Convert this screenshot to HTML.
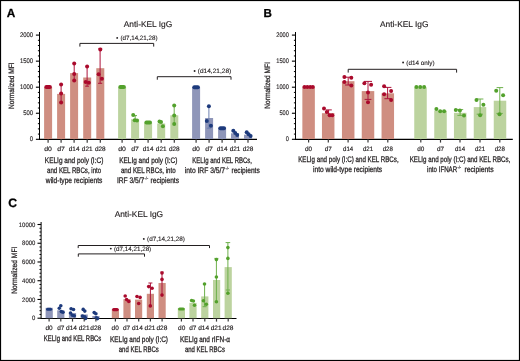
<!DOCTYPE html>
<html><head><meta charset="utf-8"><style>
html,body{margin:0;padding:0;background:#fff;}
body{width:520px;height:361px;overflow:hidden;}
svg{display:block;will-change:transform;}
text{font-family:"Liberation Sans", sans-serif;text-rendering:geometricPrecision;}
</style></head><body>
<svg width="520" height="361" viewBox="0 0 520 361" font-family='"Liberation Sans", sans-serif'>
<rect x="0" y="0" width="520" height="361" fill="#fff"/>
<text x="6.70" y="16.90" font-size="11.8" text-anchor="start" font-weight="bold" fill="#000" stroke="#000" stroke-width="0.28">A</text>
<text x="263.50" y="16.80" font-size="11.6" text-anchor="start" font-weight="bold" fill="#000" stroke="#000" stroke-width="0.28">B</text>
<text x="8.20" y="207.00" font-size="12.2" text-anchor="start" font-weight="bold" fill="#000" stroke="#000" stroke-width="0.28">C</text>
<text x="148.00" y="26.90" font-size="8.4" text-anchor="middle" font-weight="normal" fill="#231f20" textLength="48.50" lengthAdjust="spacingAndGlyphs" stroke="#231f20" stroke-width="0.15">Anti-KEL IgG</text>
<text x="404.20" y="26.80" font-size="8.4" text-anchor="middle" font-weight="normal" fill="#231f20" textLength="48.50" lengthAdjust="spacingAndGlyphs" stroke="#231f20" stroke-width="0.15">Anti-KEL IgG</text>
<text x="138.90" y="216.90" font-size="8.4" text-anchor="middle" font-weight="normal" fill="#231f20" textLength="48.50" lengthAdjust="spacingAndGlyphs" stroke="#231f20" stroke-width="0.15">Anti-KEL IgG</text>
<line x1="39.50" y1="32.00" x2="39.50" y2="139.80" stroke="#000" stroke-width="1.0"/>
<line x1="35.90" y1="139.30" x2="39.50" y2="139.30" stroke="#000" stroke-width="1.1"/>
<line x1="35.90" y1="113.25" x2="39.50" y2="113.25" stroke="#000" stroke-width="1.1"/>
<line x1="35.90" y1="87.20" x2="39.50" y2="87.20" stroke="#000" stroke-width="1.1"/>
<line x1="35.90" y1="61.15" x2="39.50" y2="61.15" stroke="#000" stroke-width="1.1"/>
<line x1="35.90" y1="35.10" x2="39.50" y2="35.10" stroke="#000" stroke-width="1.1"/>
<line x1="37.90" y1="134.09" x2="39.50" y2="134.09" stroke="#000" stroke-width="1.0"/>
<line x1="37.90" y1="128.88" x2="39.50" y2="128.88" stroke="#000" stroke-width="1.0"/>
<line x1="37.90" y1="123.67" x2="39.50" y2="123.67" stroke="#000" stroke-width="1.0"/>
<line x1="37.90" y1="118.46" x2="39.50" y2="118.46" stroke="#000" stroke-width="1.0"/>
<line x1="37.90" y1="108.04" x2="39.50" y2="108.04" stroke="#000" stroke-width="1.0"/>
<line x1="37.90" y1="102.83" x2="39.50" y2="102.83" stroke="#000" stroke-width="1.0"/>
<line x1="37.90" y1="97.62" x2="39.50" y2="97.62" stroke="#000" stroke-width="1.0"/>
<line x1="37.90" y1="92.41" x2="39.50" y2="92.41" stroke="#000" stroke-width="1.0"/>
<line x1="37.90" y1="81.99" x2="39.50" y2="81.99" stroke="#000" stroke-width="1.0"/>
<line x1="37.90" y1="76.78" x2="39.50" y2="76.78" stroke="#000" stroke-width="1.0"/>
<line x1="37.90" y1="71.57" x2="39.50" y2="71.57" stroke="#000" stroke-width="1.0"/>
<line x1="37.90" y1="66.36" x2="39.50" y2="66.36" stroke="#000" stroke-width="1.0"/>
<line x1="37.90" y1="55.94" x2="39.50" y2="55.94" stroke="#000" stroke-width="1.0"/>
<line x1="37.90" y1="50.73" x2="39.50" y2="50.73" stroke="#000" stroke-width="1.0"/>
<line x1="37.90" y1="45.52" x2="39.50" y2="45.52" stroke="#000" stroke-width="1.0"/>
<line x1="37.90" y1="40.31" x2="39.50" y2="40.31" stroke="#000" stroke-width="1.0"/>
<text x="33.10" y="141.31" font-size="6.7" text-anchor="end" font-weight="normal" fill="#231f20" textLength="3.30" lengthAdjust="spacingAndGlyphs" stroke="#231f20" stroke-width="0.14">0</text>
<text x="33.10" y="115.26" font-size="6.7" text-anchor="end" font-weight="normal" fill="#231f20" textLength="9.90" lengthAdjust="spacingAndGlyphs" stroke="#231f20" stroke-width="0.14">500</text>
<text x="33.10" y="89.21" font-size="6.7" text-anchor="end" font-weight="normal" fill="#231f20" textLength="13.20" lengthAdjust="spacingAndGlyphs" stroke="#231f20" stroke-width="0.14">1000</text>
<text x="33.10" y="63.16" font-size="6.7" text-anchor="end" font-weight="normal" fill="#231f20" textLength="13.20" lengthAdjust="spacingAndGlyphs" stroke="#231f20" stroke-width="0.14">1500</text>
<text x="33.10" y="37.11" font-size="6.7" text-anchor="end" font-weight="normal" fill="#231f20" textLength="13.20" lengthAdjust="spacingAndGlyphs" stroke="#231f20" stroke-width="0.14">2000</text>
<line x1="39.00" y1="139.40" x2="257.00" y2="139.40" stroke="#000" stroke-width="1.2"/>
<text x="0" y="0" font-size="7.8" text-anchor="middle" fill="#231f20" stroke="#231f20" stroke-width="0.25" textLength="46.60" lengthAdjust="spacingAndGlyphs" transform="translate(14.30,85.60) rotate(-90)">Normalized MFI</text>
<rect x="44.10" y="87.00" width="8.00" height="52.00" fill="#cf8e81"/>
<line x1="46.30" y1="87.00" x2="49.90" y2="87.00" stroke="#aa0a2c" stroke-width="4.0" stroke-linecap="round"/>
<rect x="57.10" y="93.90" width="8.00" height="45.10" fill="#cf8e81"/>
<line x1="61.10" y1="84.60" x2="61.10" y2="102.50" stroke="#ad143c" stroke-width="1.0"/>
<circle cx="61.10" cy="84.60" r="2.0" fill="#aa0a2c"/>
<circle cx="61.10" cy="93.60" r="2.0" fill="#aa0a2c"/>
<circle cx="61.10" cy="102.50" r="2.0" fill="#aa0a2c"/>
<rect x="70.10" y="73.10" width="8.00" height="65.90" fill="#cf8e81"/>
<line x1="74.20" y1="63.50" x2="74.20" y2="80.40" stroke="#ad143c" stroke-width="1.0"/>
<circle cx="74.20" cy="63.50" r="2.0" fill="#aa0a2c"/>
<circle cx="74.20" cy="74.10" r="2.0" fill="#aa0a2c"/>
<circle cx="74.20" cy="80.40" r="2.0" fill="#aa0a2c"/>
<rect x="83.20" y="77.50" width="8.00" height="61.50" fill="#cf8e81"/>
<line x1="87.10" y1="66.40" x2="87.10" y2="86.20" stroke="#ad143c" stroke-width="1.0"/>
<line x1="85.20" y1="86.20" x2="89.00" y2="86.20" stroke="#ad143c" stroke-width="1.0"/>
<circle cx="87.10" cy="66.40" r="2.0" fill="#aa0a2c"/>
<circle cx="85.70" cy="82.10" r="2.0" fill="#aa0a2c"/>
<circle cx="88.90" cy="82.80" r="2.0" fill="#aa0a2c"/>
<rect x="96.30" y="68.20" width="8.00" height="70.80" fill="#cf8e81"/>
<line x1="100.10" y1="49.00" x2="100.10" y2="83.30" stroke="#ad143c" stroke-width="1.0"/>
<line x1="98.00" y1="83.30" x2="102.20" y2="83.30" stroke="#ad143c" stroke-width="1.0"/>
<line x1="98.40" y1="48.40" x2="102.20" y2="48.40" stroke="#ad143c" stroke-width="1.0"/>
<circle cx="100.30" cy="49.40" r="2.0" fill="#aa0a2c"/>
<circle cx="98.60" cy="74.20" r="2.0" fill="#aa0a2c"/>
<circle cx="101.90" cy="78.80" r="2.0" fill="#aa0a2c"/>
<rect x="118.10" y="87.00" width="8.00" height="52.00" fill="#bcd39f"/>
<line x1="120.30" y1="87.10" x2="123.90" y2="87.10" stroke="#53a12c" stroke-width="4.0" stroke-linecap="round"/>
<rect x="131.10" y="119.20" width="8.00" height="19.80" fill="#bcd39f"/>
<line x1="135.20" y1="115.60" x2="135.20" y2="119.00" stroke="#6eb04c" stroke-width="1.0"/>
<line x1="134.00" y1="115.60" x2="137.00" y2="115.60" stroke="#6eb04c" stroke-width="1.0"/>
<circle cx="133.20" cy="115.00" r="2.0" fill="#53a12c"/>
<circle cx="134.70" cy="120.20" r="2.0" fill="#53a12c"/>
<circle cx="137.00" cy="120.40" r="2.0" fill="#53a12c"/>
<rect x="144.10" y="122.60" width="8.00" height="16.40" fill="#bcd39f"/>
<line x1="146.40" y1="122.60" x2="150.00" y2="122.60" stroke="#53a12c" stroke-width="4.0" stroke-linecap="round"/>
<rect x="157.20" y="123.50" width="8.00" height="15.50" fill="#bcd39f"/>
<circle cx="159.50" cy="121.40" r="2.0" fill="#53a12c"/>
<circle cx="161.00" cy="122.00" r="2.0" fill="#53a12c"/>
<circle cx="162.90" cy="126.20" r="2.0" fill="#53a12c"/>
<rect x="170.30" y="115.30" width="8.00" height="23.70" fill="#bcd39f"/>
<line x1="174.20" y1="105.50" x2="174.20" y2="124.00" stroke="#6eb04c" stroke-width="1.0"/>
<circle cx="174.20" cy="105.50" r="2.0" fill="#53a12c"/>
<circle cx="174.20" cy="115.60" r="2.0" fill="#53a12c"/>
<circle cx="174.20" cy="124.00" r="2.0" fill="#53a12c"/>
<rect x="192.10" y="87.20" width="8.00" height="51.80" fill="#8f96b9"/>
<line x1="194.30" y1="87.30" x2="197.90" y2="87.30" stroke="#1d3a7c" stroke-width="4.0" stroke-linecap="round"/>
<rect x="205.10" y="118.00" width="8.00" height="21.00" fill="#8f96b9"/>
<line x1="208.90" y1="106.30" x2="208.90" y2="128.20" stroke="#6f80b0" stroke-width="1.0"/>
<line x1="206.80" y1="128.20" x2="211.00" y2="128.20" stroke="#6f80b0" stroke-width="1.0"/>
<circle cx="208.90" cy="106.30" r="2.0" fill="#1d3a7c"/>
<circle cx="206.80" cy="120.90" r="2.0" fill="#1d3a7c"/>
<circle cx="210.90" cy="125.70" r="2.0" fill="#1d3a7c"/>
<rect x="218.10" y="127.40" width="8.00" height="11.60" fill="#8f96b9"/>
<line x1="220.40" y1="128.30" x2="224.00" y2="128.30" stroke="#1d3a7c" stroke-width="4.0" stroke-linecap="round"/>
<rect x="231.00" y="133.30" width="8.00" height="5.70" fill="#8f96b9"/>
<circle cx="233.30" cy="130.80" r="2.0" fill="#1d3a7c"/>
<circle cx="235.20" cy="132.90" r="2.0" fill="#1d3a7c"/>
<circle cx="237.20" cy="135.00" r="2.0" fill="#1d3a7c"/>
<rect x="244.00" y="134.70" width="8.00" height="4.30" fill="#8f96b9"/>
<circle cx="246.70" cy="132.20" r="2.0" fill="#1d3a7c"/>
<circle cx="248.60" cy="134.20" r="2.0" fill="#1d3a7c"/>
<circle cx="250.60" cy="136.10" r="2.0" fill="#1d3a7c"/>
<line x1="48.10" y1="139.30" x2="48.10" y2="142.80" stroke="#3a3a3a" stroke-width="1.2"/>
<text x="48.10" y="150.80" font-size="6.3" text-anchor="middle" font-weight="normal" fill="#231f20" textLength="7.70" lengthAdjust="spacingAndGlyphs" stroke="#231f20" stroke-width="0.16">d0</text>
<line x1="61.10" y1="139.30" x2="61.10" y2="142.80" stroke="#3a3a3a" stroke-width="1.2"/>
<text x="61.10" y="150.80" font-size="6.3" text-anchor="middle" font-weight="normal" fill="#231f20" textLength="7.70" lengthAdjust="spacingAndGlyphs" stroke="#231f20" stroke-width="0.16">d7</text>
<line x1="74.10" y1="139.30" x2="74.10" y2="142.80" stroke="#3a3a3a" stroke-width="1.2"/>
<text x="74.10" y="150.80" font-size="6.3" text-anchor="middle" font-weight="normal" fill="#231f20" textLength="10.70" lengthAdjust="spacingAndGlyphs" stroke="#231f20" stroke-width="0.16">d14</text>
<line x1="87.20" y1="139.30" x2="87.20" y2="142.80" stroke="#3a3a3a" stroke-width="1.2"/>
<text x="87.20" y="150.80" font-size="6.3" text-anchor="middle" font-weight="normal" fill="#231f20" textLength="10.70" lengthAdjust="spacingAndGlyphs" stroke="#231f20" stroke-width="0.16">d21</text>
<line x1="100.30" y1="139.30" x2="100.30" y2="142.80" stroke="#3a3a3a" stroke-width="1.2"/>
<text x="100.30" y="150.80" font-size="6.3" text-anchor="middle" font-weight="normal" fill="#231f20" textLength="10.70" lengthAdjust="spacingAndGlyphs" stroke="#231f20" stroke-width="0.16">d28</text>
<line x1="122.10" y1="139.30" x2="122.10" y2="142.80" stroke="#3a3a3a" stroke-width="1.2"/>
<text x="122.10" y="150.80" font-size="6.3" text-anchor="middle" font-weight="normal" fill="#231f20" textLength="7.70" lengthAdjust="spacingAndGlyphs" stroke="#231f20" stroke-width="0.16">d0</text>
<line x1="135.10" y1="139.30" x2="135.10" y2="142.80" stroke="#3a3a3a" stroke-width="1.2"/>
<text x="135.10" y="150.80" font-size="6.3" text-anchor="middle" font-weight="normal" fill="#231f20" textLength="7.70" lengthAdjust="spacingAndGlyphs" stroke="#231f20" stroke-width="0.16">d7</text>
<line x1="148.10" y1="139.30" x2="148.10" y2="142.80" stroke="#3a3a3a" stroke-width="1.2"/>
<text x="148.10" y="150.80" font-size="6.3" text-anchor="middle" font-weight="normal" fill="#231f20" textLength="10.70" lengthAdjust="spacingAndGlyphs" stroke="#231f20" stroke-width="0.16">d14</text>
<line x1="161.20" y1="139.30" x2="161.20" y2="142.80" stroke="#3a3a3a" stroke-width="1.2"/>
<text x="161.20" y="150.80" font-size="6.3" text-anchor="middle" font-weight="normal" fill="#231f20" textLength="10.70" lengthAdjust="spacingAndGlyphs" stroke="#231f20" stroke-width="0.16">d21</text>
<line x1="174.30" y1="139.30" x2="174.30" y2="142.80" stroke="#3a3a3a" stroke-width="1.2"/>
<text x="174.30" y="150.80" font-size="6.3" text-anchor="middle" font-weight="normal" fill="#231f20" textLength="10.70" lengthAdjust="spacingAndGlyphs" stroke="#231f20" stroke-width="0.16">d28</text>
<line x1="196.10" y1="139.30" x2="196.10" y2="142.80" stroke="#3a3a3a" stroke-width="1.2"/>
<text x="196.10" y="150.80" font-size="6.3" text-anchor="middle" font-weight="normal" fill="#231f20" textLength="7.70" lengthAdjust="spacingAndGlyphs" stroke="#231f20" stroke-width="0.16">d0</text>
<line x1="209.10" y1="139.30" x2="209.10" y2="142.80" stroke="#3a3a3a" stroke-width="1.2"/>
<text x="209.10" y="150.80" font-size="6.3" text-anchor="middle" font-weight="normal" fill="#231f20" textLength="7.70" lengthAdjust="spacingAndGlyphs" stroke="#231f20" stroke-width="0.16">d7</text>
<line x1="222.10" y1="139.30" x2="222.10" y2="142.80" stroke="#3a3a3a" stroke-width="1.2"/>
<text x="222.10" y="150.80" font-size="6.3" text-anchor="middle" font-weight="normal" fill="#231f20" textLength="10.70" lengthAdjust="spacingAndGlyphs" stroke="#231f20" stroke-width="0.16">d14</text>
<line x1="235.00" y1="139.30" x2="235.00" y2="142.80" stroke="#3a3a3a" stroke-width="1.2"/>
<text x="235.00" y="150.80" font-size="6.3" text-anchor="middle" font-weight="normal" fill="#231f20" textLength="10.70" lengthAdjust="spacingAndGlyphs" stroke="#231f20" stroke-width="0.16">d21</text>
<line x1="248.00" y1="139.30" x2="248.00" y2="142.80" stroke="#3a3a3a" stroke-width="1.2"/>
<text x="248.00" y="150.80" font-size="6.3" text-anchor="middle" font-weight="normal" fill="#231f20" textLength="10.70" lengthAdjust="spacingAndGlyphs" stroke="#231f20" stroke-width="0.16">d28</text>
<text x="74.10" y="162.60" font-size="8.0" text-anchor="middle" font-weight="normal" fill="#231f20" textLength="58.50" lengthAdjust="spacingAndGlyphs" stroke="#231f20" stroke-width="0.28">KELIg and poly (I:C)</text>
<text x="74.10" y="172.90" font-size="8.0" text-anchor="middle" font-weight="normal" fill="#231f20" textLength="54.20" lengthAdjust="spacingAndGlyphs" stroke="#231f20" stroke-width="0.28">and KEL RBCs, into</text>
<text x="74.10" y="183.20" font-size="8.0" text-anchor="middle" font-weight="normal" fill="#231f20" textLength="56.50" lengthAdjust="spacingAndGlyphs" stroke="#231f20" stroke-width="0.28">wild-type recipients</text>
<text x="148.30" y="162.60" font-size="8.0" text-anchor="middle" font-weight="normal" fill="#231f20" textLength="58.20" lengthAdjust="spacingAndGlyphs" stroke="#231f20" stroke-width="0.28">KELIg and poly (I:C)</text>
<text x="148.30" y="172.90" font-size="8.0" text-anchor="middle" font-weight="normal" fill="#231f20" textLength="54.70" lengthAdjust="spacingAndGlyphs" stroke="#231f20" stroke-width="0.28">and KEL RBCs, into</text>
<text x="116.90" y="183.20" font-size="8.0" text-anchor="start" font-weight="normal" fill="#231f20" textLength="27.40" lengthAdjust="spacingAndGlyphs" stroke="#231f20" stroke-width="0.28">IRF 3/5/7</text>
<text x="144.60" y="179.90" font-size="4.6" text-anchor="start" font-weight="normal" fill="#231f20" textLength="3.60" lengthAdjust="spacingAndGlyphs" stroke="#231f20" stroke-width="0.15">-/-</text>
<text x="150.60" y="183.20" font-size="8.0" text-anchor="start" font-weight="normal" fill="#231f20" textLength="28.40" lengthAdjust="spacingAndGlyphs" stroke="#231f20" stroke-width="0.28">recipients</text>
<text x="222.10" y="162.60" font-size="8.0" text-anchor="middle" font-weight="normal" fill="#231f20" textLength="59.70" lengthAdjust="spacingAndGlyphs" stroke="#231f20" stroke-width="0.28">KELIg and KEL RBCs,</text>
<text x="184.80" y="172.90" font-size="8.0" text-anchor="start" font-weight="normal" fill="#231f20" textLength="40.30" lengthAdjust="spacingAndGlyphs" stroke="#231f20" stroke-width="0.28">into IRF 3/5/7</text>
<text x="225.40" y="169.60" font-size="4.6" text-anchor="start" font-weight="normal" fill="#231f20" textLength="3.50" lengthAdjust="spacingAndGlyphs" stroke="#231f20" stroke-width="0.15">-/-</text>
<text x="231.50" y="172.90" font-size="8.0" text-anchor="start" font-weight="normal" fill="#231f20" textLength="28.20" lengthAdjust="spacingAndGlyphs" stroke="#231f20" stroke-width="0.28">recipients</text>
<path d="M79.90 46.60 V43.40 H153.70 V46.60" fill="none" stroke="#231f20" stroke-width="1"/>
<circle cx="117.20" cy="37.90" r="0.95" fill="#231f20"/>
<text x="120.40" y="39.90" font-size="6.3" text-anchor="start" font-weight="normal" fill="#231f20" textLength="37.20" lengthAdjust="spacingAndGlyphs" stroke="#231f20" stroke-width="0.12">(d7,14,21,28)</text>
<path d="M157.30 79.70 V76.70 H231.00 V79.70" fill="none" stroke="#231f20" stroke-width="1"/>
<circle cx="194.60" cy="71.00" r="0.95" fill="#231f20"/>
<text x="197.80" y="73.00" font-size="6.3" text-anchor="start" font-weight="normal" fill="#231f20" textLength="33.40" lengthAdjust="spacingAndGlyphs" stroke="#231f20" stroke-width="0.12">(d14,21,28)</text>
<line x1="295.50" y1="32.00" x2="295.50" y2="139.80" stroke="#000" stroke-width="1.0"/>
<line x1="291.90" y1="139.30" x2="295.50" y2="139.30" stroke="#000" stroke-width="1.1"/>
<line x1="291.90" y1="113.25" x2="295.50" y2="113.25" stroke="#000" stroke-width="1.1"/>
<line x1="291.90" y1="87.20" x2="295.50" y2="87.20" stroke="#000" stroke-width="1.1"/>
<line x1="291.90" y1="61.15" x2="295.50" y2="61.15" stroke="#000" stroke-width="1.1"/>
<line x1="291.90" y1="35.10" x2="295.50" y2="35.10" stroke="#000" stroke-width="1.1"/>
<line x1="293.90" y1="134.09" x2="295.50" y2="134.09" stroke="#000" stroke-width="1.0"/>
<line x1="293.90" y1="128.88" x2="295.50" y2="128.88" stroke="#000" stroke-width="1.0"/>
<line x1="293.90" y1="123.67" x2="295.50" y2="123.67" stroke="#000" stroke-width="1.0"/>
<line x1="293.90" y1="118.46" x2="295.50" y2="118.46" stroke="#000" stroke-width="1.0"/>
<line x1="293.90" y1="108.04" x2="295.50" y2="108.04" stroke="#000" stroke-width="1.0"/>
<line x1="293.90" y1="102.83" x2="295.50" y2="102.83" stroke="#000" stroke-width="1.0"/>
<line x1="293.90" y1="97.62" x2="295.50" y2="97.62" stroke="#000" stroke-width="1.0"/>
<line x1="293.90" y1="92.41" x2="295.50" y2="92.41" stroke="#000" stroke-width="1.0"/>
<line x1="293.90" y1="81.99" x2="295.50" y2="81.99" stroke="#000" stroke-width="1.0"/>
<line x1="293.90" y1="76.78" x2="295.50" y2="76.78" stroke="#000" stroke-width="1.0"/>
<line x1="293.90" y1="71.57" x2="295.50" y2="71.57" stroke="#000" stroke-width="1.0"/>
<line x1="293.90" y1="66.36" x2="295.50" y2="66.36" stroke="#000" stroke-width="1.0"/>
<line x1="293.90" y1="55.94" x2="295.50" y2="55.94" stroke="#000" stroke-width="1.0"/>
<line x1="293.90" y1="50.73" x2="295.50" y2="50.73" stroke="#000" stroke-width="1.0"/>
<line x1="293.90" y1="45.52" x2="295.50" y2="45.52" stroke="#000" stroke-width="1.0"/>
<line x1="293.90" y1="40.31" x2="295.50" y2="40.31" stroke="#000" stroke-width="1.0"/>
<text x="288.90" y="141.31" font-size="6.7" text-anchor="end" font-weight="normal" fill="#231f20" textLength="3.15" lengthAdjust="spacingAndGlyphs" stroke="#231f20" stroke-width="0.14">0</text>
<text x="288.90" y="115.26" font-size="6.7" text-anchor="end" font-weight="normal" fill="#231f20" textLength="9.45" lengthAdjust="spacingAndGlyphs" stroke="#231f20" stroke-width="0.14">500</text>
<text x="288.90" y="89.21" font-size="6.7" text-anchor="end" font-weight="normal" fill="#231f20" textLength="12.60" lengthAdjust="spacingAndGlyphs" stroke="#231f20" stroke-width="0.14">1000</text>
<text x="288.90" y="63.16" font-size="6.7" text-anchor="end" font-weight="normal" fill="#231f20" textLength="12.60" lengthAdjust="spacingAndGlyphs" stroke="#231f20" stroke-width="0.14">1500</text>
<text x="288.90" y="37.11" font-size="6.7" text-anchor="end" font-weight="normal" fill="#231f20" textLength="12.60" lengthAdjust="spacingAndGlyphs" stroke="#231f20" stroke-width="0.14">2000</text>
<line x1="295.00" y1="139.40" x2="512.80" y2="139.40" stroke="#000" stroke-width="1.2"/>
<text x="0" y="0" font-size="7.8" text-anchor="middle" fill="#231f20" stroke="#231f20" stroke-width="0.25" textLength="46.80" lengthAdjust="spacingAndGlyphs" transform="translate(270.30,85.40) rotate(-90)">Normalized MFI</text>
<rect x="302.35" y="86.60" width="12.50" height="52.40" fill="#cf8e81"/>
<circle cx="304.50" cy="87.00" r="2.0" fill="#aa0a2c"/>
<circle cx="307.30" cy="87.00" r="2.0" fill="#aa0a2c"/>
<circle cx="310.20" cy="87.00" r="2.0" fill="#aa0a2c"/>
<circle cx="312.80" cy="87.00" r="2.0" fill="#aa0a2c"/>
<rect x="321.95" y="113.20" width="12.50" height="25.80" fill="#cf8e81"/>
<line x1="328.60" y1="109.90" x2="328.60" y2="116.00" stroke="#ad143c" stroke-width="1.0"/>
<line x1="326.00" y1="109.90" x2="331.80" y2="109.90" stroke="#ad143c" stroke-width="1.0"/>
<circle cx="324.00" cy="108.50" r="2.0" fill="#aa0a2c"/>
<circle cx="326.80" cy="112.10" r="2.0" fill="#aa0a2c"/>
<circle cx="329.60" cy="115.20" r="2.0" fill="#aa0a2c"/>
<circle cx="332.30" cy="115.20" r="2.0" fill="#aa0a2c"/>
<rect x="341.95" y="81.20" width="12.50" height="57.80" fill="#cf8e81"/>
<line x1="348.20" y1="77.20" x2="348.20" y2="85.00" stroke="#ad143c" stroke-width="1.0"/>
<line x1="344.60" y1="77.20" x2="352.00" y2="77.20" stroke="#ad143c" stroke-width="1.0"/>
<line x1="345.00" y1="85.00" x2="351.50" y2="85.00" stroke="#ad143c" stroke-width="1.0"/>
<circle cx="344.40" cy="77.10" r="2.0" fill="#aa0a2c"/>
<circle cx="351.30" cy="77.80" r="2.0" fill="#aa0a2c"/>
<circle cx="344.40" cy="81.90" r="2.0" fill="#aa0a2c"/>
<circle cx="351.30" cy="85.40" r="2.0" fill="#aa0a2c"/>
<rect x="361.75" y="91.10" width="12.50" height="47.90" fill="#cf8e81"/>
<line x1="368.00" y1="81.40" x2="368.00" y2="99.40" stroke="#ad143c" stroke-width="1.0"/>
<line x1="364.00" y1="81.40" x2="372.00" y2="81.40" stroke="#ad143c" stroke-width="1.0"/>
<line x1="364.60" y1="99.40" x2="371.40" y2="99.40" stroke="#ad143c" stroke-width="1.0"/>
<circle cx="364.40" cy="83.30" r="2.0" fill="#aa0a2c"/>
<circle cx="371.10" cy="84.70" r="2.0" fill="#aa0a2c"/>
<circle cx="368.00" cy="92.60" r="2.0" fill="#aa0a2c"/>
<circle cx="368.00" cy="102.20" r="2.0" fill="#aa0a2c"/>
<rect x="381.55" y="93.30" width="12.50" height="45.70" fill="#cf8e81"/>
<line x1="387.60" y1="87.40" x2="387.60" y2="98.70" stroke="#ad143c" stroke-width="1.0"/>
<line x1="384.00" y1="87.40" x2="391.40" y2="87.40" stroke="#ad143c" stroke-width="1.0"/>
<line x1="384.40" y1="98.70" x2="391.00" y2="98.70" stroke="#ad143c" stroke-width="1.0"/>
<circle cx="384.10" cy="86.30" r="2.0" fill="#aa0a2c"/>
<circle cx="391.10" cy="90.90" r="2.0" fill="#aa0a2c"/>
<circle cx="384.10" cy="94.20" r="2.0" fill="#aa0a2c"/>
<circle cx="391.10" cy="100.00" r="2.0" fill="#aa0a2c"/>
<rect x="414.25" y="87.30" width="12.50" height="51.70" fill="#bcd39f"/>
<circle cx="416.40" cy="86.90" r="2.0" fill="#53a12c"/>
<circle cx="420.20" cy="86.90" r="2.0" fill="#53a12c"/>
<circle cx="424.10" cy="86.90" r="2.0" fill="#53a12c"/>
<rect x="434.25" y="110.60" width="12.50" height="28.40" fill="#bcd39f"/>
<circle cx="436.40" cy="109.10" r="2.0" fill="#53a12c"/>
<circle cx="440.20" cy="111.30" r="2.0" fill="#53a12c"/>
<circle cx="444.10" cy="111.30" r="2.0" fill="#53a12c"/>
<rect x="453.95" y="112.80" width="12.50" height="26.20" fill="#bcd39f"/>
<line x1="460.10" y1="109.60" x2="460.10" y2="115.40" stroke="#6eb04c" stroke-width="1.0"/>
<line x1="457.00" y1="109.60" x2="463.20" y2="109.60" stroke="#6eb04c" stroke-width="1.0"/>
<line x1="457.40" y1="115.40" x2="462.80" y2="115.40" stroke="#6eb04c" stroke-width="1.0"/>
<circle cx="455.80" cy="110.00" r="2.0" fill="#53a12c"/>
<circle cx="459.90" cy="110.60" r="2.0" fill="#53a12c"/>
<circle cx="464.00" cy="115.60" r="2.0" fill="#53a12c"/>
<rect x="473.75" y="107.10" width="12.50" height="31.90" fill="#bcd39f"/>
<line x1="480.10" y1="99.00" x2="480.10" y2="115.30" stroke="#6eb04c" stroke-width="1.0"/>
<line x1="476.40" y1="99.00" x2="483.40" y2="99.00" stroke="#6eb04c" stroke-width="1.0"/>
<line x1="476.70" y1="114.20" x2="483.00" y2="114.20" stroke="#6eb04c" stroke-width="1.0"/>
<circle cx="476.50" cy="100.00" r="2.0" fill="#53a12c"/>
<circle cx="483.40" cy="104.80" r="2.0" fill="#53a12c"/>
<circle cx="480.10" cy="115.30" r="2.0" fill="#53a12c"/>
<rect x="493.75" y="100.70" width="12.50" height="38.30" fill="#bcd39f"/>
<line x1="499.80" y1="87.60" x2="499.80" y2="114.20" stroke="#6eb04c" stroke-width="1.0"/>
<line x1="496.60" y1="87.60" x2="503.20" y2="87.60" stroke="#6eb04c" stroke-width="1.0"/>
<line x1="496.40" y1="113.40" x2="502.80" y2="113.40" stroke="#6eb04c" stroke-width="1.0"/>
<circle cx="496.20" cy="90.80" r="2.0" fill="#53a12c"/>
<circle cx="503.10" cy="95.30" r="2.0" fill="#53a12c"/>
<circle cx="499.50" cy="114.20" r="2.0" fill="#53a12c"/>
<line x1="308.60" y1="139.30" x2="308.60" y2="142.60" stroke="#3a3a3a" stroke-width="1.2"/>
<text x="308.60" y="150.70" font-size="6.3" text-anchor="middle" font-weight="normal" fill="#231f20" textLength="7.10" lengthAdjust="spacingAndGlyphs" stroke="#231f20" stroke-width="0.16">d0</text>
<line x1="328.30" y1="139.30" x2="328.30" y2="142.60" stroke="#3a3a3a" stroke-width="1.2"/>
<text x="328.30" y="150.70" font-size="6.3" text-anchor="middle" font-weight="normal" fill="#231f20" textLength="7.10" lengthAdjust="spacingAndGlyphs" stroke="#231f20" stroke-width="0.16">d7</text>
<line x1="348.10" y1="139.30" x2="348.10" y2="142.60" stroke="#3a3a3a" stroke-width="1.2"/>
<text x="348.10" y="150.70" font-size="6.3" text-anchor="middle" font-weight="normal" fill="#231f20" textLength="10.20" lengthAdjust="spacingAndGlyphs" stroke="#231f20" stroke-width="0.16">d14</text>
<line x1="368.00" y1="139.30" x2="368.00" y2="142.60" stroke="#3a3a3a" stroke-width="1.2"/>
<text x="368.00" y="150.70" font-size="6.3" text-anchor="middle" font-weight="normal" fill="#231f20" textLength="10.20" lengthAdjust="spacingAndGlyphs" stroke="#231f20" stroke-width="0.16">d21</text>
<line x1="387.80" y1="139.30" x2="387.80" y2="142.60" stroke="#3a3a3a" stroke-width="1.2"/>
<text x="387.80" y="150.70" font-size="6.3" text-anchor="middle" font-weight="normal" fill="#231f20" textLength="10.20" lengthAdjust="spacingAndGlyphs" stroke="#231f20" stroke-width="0.16">d28</text>
<line x1="420.80" y1="139.30" x2="420.80" y2="142.60" stroke="#3a3a3a" stroke-width="1.2"/>
<text x="420.80" y="150.70" font-size="6.3" text-anchor="middle" font-weight="normal" fill="#231f20" textLength="7.10" lengthAdjust="spacingAndGlyphs" stroke="#231f20" stroke-width="0.16">d0</text>
<line x1="440.50" y1="139.30" x2="440.50" y2="142.60" stroke="#3a3a3a" stroke-width="1.2"/>
<text x="440.50" y="150.70" font-size="6.3" text-anchor="middle" font-weight="normal" fill="#231f20" textLength="7.10" lengthAdjust="spacingAndGlyphs" stroke="#231f20" stroke-width="0.16">d7</text>
<line x1="460.00" y1="139.30" x2="460.00" y2="142.60" stroke="#3a3a3a" stroke-width="1.2"/>
<text x="460.00" y="150.70" font-size="6.3" text-anchor="middle" font-weight="normal" fill="#231f20" textLength="10.20" lengthAdjust="spacingAndGlyphs" stroke="#231f20" stroke-width="0.16">d14</text>
<line x1="480.00" y1="139.30" x2="480.00" y2="142.60" stroke="#3a3a3a" stroke-width="1.2"/>
<text x="480.00" y="150.70" font-size="6.3" text-anchor="middle" font-weight="normal" fill="#231f20" textLength="10.20" lengthAdjust="spacingAndGlyphs" stroke="#231f20" stroke-width="0.16">d21</text>
<line x1="499.80" y1="139.30" x2="499.80" y2="142.60" stroke="#3a3a3a" stroke-width="1.2"/>
<text x="499.80" y="150.70" font-size="6.3" text-anchor="middle" font-weight="normal" fill="#231f20" textLength="10.20" lengthAdjust="spacingAndGlyphs" stroke="#231f20" stroke-width="0.16">d28</text>
<text x="348.40" y="162.20" font-size="8.0" text-anchor="middle" font-weight="normal" fill="#231f20" textLength="100.50" lengthAdjust="spacingAndGlyphs" stroke="#231f20" stroke-width="0.28">KELIg and poly (I:C) and KEL RBCs,</text>
<text x="347.60" y="172.00" font-size="8.0" text-anchor="middle" font-weight="normal" fill="#231f20" textLength="69.20" lengthAdjust="spacingAndGlyphs" stroke="#231f20" stroke-width="0.28">into wild-type recipients</text>
<text x="460.00" y="162.20" font-size="8.0" text-anchor="middle" font-weight="normal" fill="#231f20" textLength="100.70" lengthAdjust="spacingAndGlyphs" stroke="#231f20" stroke-width="0.28">KELIg and poly (I:C) and KEL RBCs,</text>
<text x="427.10" y="172.00" font-size="8.0" text-anchor="start" font-weight="normal" fill="#231f20" textLength="30.00" lengthAdjust="spacingAndGlyphs" stroke="#231f20" stroke-width="0.28">into IFNAR</text>
<text x="457.40" y="168.70" font-size="4.6" text-anchor="start" font-weight="normal" fill="#231f20" textLength="3.80" lengthAdjust="spacingAndGlyphs" stroke="#231f20" stroke-width="0.15">-/-</text>
<text x="464.40" y="172.00" font-size="8.0" text-anchor="start" font-weight="normal" fill="#231f20" textLength="29.20" lengthAdjust="spacingAndGlyphs" stroke="#231f20" stroke-width="0.28">recipients</text>
<path d="M348.20 72.60 V69.30 H456.60 V72.60" fill="none" stroke="#231f20" stroke-width="1"/>
<circle cx="403.10" cy="62.50" r="0.95" fill="#231f20"/>
<text x="406.30" y="64.50" font-size="6.3" text-anchor="start" font-weight="normal" fill="#231f20" textLength="28.30" lengthAdjust="spacingAndGlyphs" stroke="#231f20" stroke-width="0.12">(d14 only)</text>
<line x1="41.10" y1="222.00" x2="41.10" y2="318.70" stroke="#000" stroke-width="1.0"/>
<line x1="37.50" y1="318.20" x2="41.10" y2="318.20" stroke="#000" stroke-width="1.1"/>
<line x1="37.50" y1="299.46" x2="41.10" y2="299.46" stroke="#000" stroke-width="1.1"/>
<line x1="37.50" y1="280.72" x2="41.10" y2="280.72" stroke="#000" stroke-width="1.1"/>
<line x1="37.50" y1="261.98" x2="41.10" y2="261.98" stroke="#000" stroke-width="1.1"/>
<line x1="37.50" y1="243.24" x2="41.10" y2="243.24" stroke="#000" stroke-width="1.1"/>
<line x1="37.50" y1="224.50" x2="41.10" y2="224.50" stroke="#000" stroke-width="1.1"/>
<line x1="39.50" y1="314.45" x2="41.10" y2="314.45" stroke="#000" stroke-width="1.0"/>
<line x1="39.50" y1="310.70" x2="41.10" y2="310.70" stroke="#000" stroke-width="1.0"/>
<line x1="39.50" y1="306.96" x2="41.10" y2="306.96" stroke="#000" stroke-width="1.0"/>
<line x1="39.50" y1="303.21" x2="41.10" y2="303.21" stroke="#000" stroke-width="1.0"/>
<line x1="39.50" y1="295.71" x2="41.10" y2="295.71" stroke="#000" stroke-width="1.0"/>
<line x1="39.50" y1="291.96" x2="41.10" y2="291.96" stroke="#000" stroke-width="1.0"/>
<line x1="39.50" y1="288.22" x2="41.10" y2="288.22" stroke="#000" stroke-width="1.0"/>
<line x1="39.50" y1="284.47" x2="41.10" y2="284.47" stroke="#000" stroke-width="1.0"/>
<line x1="39.50" y1="276.97" x2="41.10" y2="276.97" stroke="#000" stroke-width="1.0"/>
<line x1="39.50" y1="273.22" x2="41.10" y2="273.22" stroke="#000" stroke-width="1.0"/>
<line x1="39.50" y1="269.48" x2="41.10" y2="269.48" stroke="#000" stroke-width="1.0"/>
<line x1="39.50" y1="265.73" x2="41.10" y2="265.73" stroke="#000" stroke-width="1.0"/>
<line x1="39.50" y1="258.23" x2="41.10" y2="258.23" stroke="#000" stroke-width="1.0"/>
<line x1="39.50" y1="254.48" x2="41.10" y2="254.48" stroke="#000" stroke-width="1.0"/>
<line x1="39.50" y1="250.74" x2="41.10" y2="250.74" stroke="#000" stroke-width="1.0"/>
<line x1="39.50" y1="246.99" x2="41.10" y2="246.99" stroke="#000" stroke-width="1.0"/>
<line x1="39.50" y1="239.49" x2="41.10" y2="239.49" stroke="#000" stroke-width="1.0"/>
<line x1="39.50" y1="235.74" x2="41.10" y2="235.74" stroke="#000" stroke-width="1.0"/>
<line x1="39.50" y1="232.00" x2="41.10" y2="232.00" stroke="#000" stroke-width="1.0"/>
<line x1="39.50" y1="228.25" x2="41.10" y2="228.25" stroke="#000" stroke-width="1.0"/>
<text x="35.30" y="320.24" font-size="6.5" text-anchor="end" font-weight="normal" fill="#231f20" textLength="3.30" lengthAdjust="spacingAndGlyphs" stroke="#231f20" stroke-width="0.14">0</text>
<text x="35.30" y="301.50" font-size="6.5" text-anchor="end" font-weight="normal" fill="#231f20" textLength="13.20" lengthAdjust="spacingAndGlyphs" stroke="#231f20" stroke-width="0.14">2000</text>
<text x="35.30" y="282.76" font-size="6.5" text-anchor="end" font-weight="normal" fill="#231f20" textLength="13.20" lengthAdjust="spacingAndGlyphs" stroke="#231f20" stroke-width="0.14">4000</text>
<text x="35.30" y="264.02" font-size="6.5" text-anchor="end" font-weight="normal" fill="#231f20" textLength="13.20" lengthAdjust="spacingAndGlyphs" stroke="#231f20" stroke-width="0.14">6000</text>
<text x="35.30" y="245.28" font-size="6.5" text-anchor="end" font-weight="normal" fill="#231f20" textLength="13.20" lengthAdjust="spacingAndGlyphs" stroke="#231f20" stroke-width="0.14">8000</text>
<text x="35.30" y="226.54" font-size="6.5" text-anchor="end" font-weight="normal" fill="#231f20" textLength="16.50" lengthAdjust="spacingAndGlyphs" stroke="#231f20" stroke-width="0.14">10000</text>
<line x1="40.60" y1="318.50" x2="236.50" y2="318.50" stroke="#000" stroke-width="1.2"/>
<text x="0" y="0" font-size="7.9" text-anchor="middle" fill="#231f20" stroke="#231f20" stroke-width="0.25" textLength="47.00" lengthAdjust="spacingAndGlyphs" transform="translate(16.80,270.20) rotate(-90)">Normalized MFI</text>
<rect x="45.60" y="307.80" width="7.20" height="10.40" fill="#8f96b9"/>
<line x1="47.60" y1="309.30" x2="50.60" y2="309.30" stroke="#1d3a7c" stroke-width="3.1" stroke-linecap="round"/>
<rect x="57.20" y="310.30" width="7.20" height="7.90" fill="#8f96b9"/>
<circle cx="60.80" cy="305.70" r="1.8" fill="#1d3a7c"/>
<circle cx="59.30" cy="308.30" r="1.8" fill="#1d3a7c"/>
<circle cx="61.30" cy="311.60" r="1.8" fill="#1d3a7c"/>
<circle cx="63.00" cy="312.20" r="1.8" fill="#1d3a7c"/>
<rect x="68.90" y="313.00" width="7.20" height="5.20" fill="#8f96b9"/>
<circle cx="71.10" cy="308.80" r="1.8" fill="#1d3a7c"/>
<circle cx="73.50" cy="309.50" r="1.8" fill="#1d3a7c"/>
<circle cx="70.50" cy="313.00" r="1.8" fill="#1d3a7c"/>
<circle cx="72.40" cy="315.30" r="1.8" fill="#1d3a7c"/>
<circle cx="74.30" cy="315.80" r="1.8" fill="#1d3a7c"/>
<rect x="80.60" y="314.50" width="7.20" height="3.70" fill="#8f96b9"/>
<circle cx="83.20" cy="309.40" r="1.8" fill="#1d3a7c"/>
<circle cx="84.80" cy="311.10" r="1.8" fill="#1d3a7c"/>
<circle cx="82.50" cy="316.10" r="1.8" fill="#1d3a7c"/>
<circle cx="84.80" cy="316.80" r="1.8" fill="#1d3a7c"/>
<circle cx="85.50" cy="318.40" r="1.8" fill="#1d3a7c"/>
<rect x="92.30" y="316.00" width="7.20" height="2.20" fill="#8f96b9"/>
<circle cx="94.20" cy="312.60" r="1.8" fill="#1d3a7c"/>
<circle cx="95.90" cy="313.80" r="1.8" fill="#1d3a7c"/>
<circle cx="96.30" cy="317.80" r="1.8" fill="#1d3a7c"/>
<circle cx="97.50" cy="318.60" r="1.8" fill="#1d3a7c"/>
<rect x="111.80" y="309.10" width="7.20" height="9.10" fill="#cf8e81"/>
<line x1="113.60" y1="309.60" x2="117.20" y2="309.60" stroke="#aa0a2c" stroke-width="3.1" stroke-linecap="round"/>
<rect x="123.40" y="299.20" width="7.20" height="19.00" fill="#cf8e81"/>
<circle cx="125.20" cy="296.00" r="1.8" fill="#aa0a2c"/>
<circle cx="126.60" cy="299.60" r="1.8" fill="#aa0a2c"/>
<circle cx="128.80" cy="301.40" r="1.8" fill="#aa0a2c"/>
<rect x="135.00" y="299.60" width="7.20" height="18.60" fill="#cf8e81"/>
<circle cx="137.00" cy="296.50" r="1.8" fill="#aa0a2c"/>
<circle cx="140.10" cy="297.40" r="1.8" fill="#aa0a2c"/>
<circle cx="138.70" cy="303.50" r="1.8" fill="#aa0a2c"/>
<rect x="146.80" y="293.80" width="7.20" height="24.40" fill="#cf8e81"/>
<line x1="150.40" y1="283.00" x2="150.40" y2="305.90" stroke="#ad143c" stroke-width="1.0"/>
<line x1="148.40" y1="283.00" x2="152.40" y2="283.00" stroke="#ad143c" stroke-width="1.0"/>
<circle cx="148.70" cy="286.60" r="1.8" fill="#aa0a2c"/>
<circle cx="152.10" cy="288.30" r="1.8" fill="#aa0a2c"/>
<circle cx="150.30" cy="305.90" r="1.8" fill="#aa0a2c"/>
<rect x="158.50" y="283.00" width="7.20" height="35.20" fill="#cf8e81"/>
<line x1="162.00" y1="272.00" x2="162.00" y2="295.10" stroke="#ad143c" stroke-width="1.0"/>
<line x1="160.40" y1="272.00" x2="163.60" y2="272.00" stroke="#ad143c" stroke-width="1.0"/>
<circle cx="162.00" cy="273.00" r="1.8" fill="#aa0a2c"/>
<circle cx="162.00" cy="279.40" r="1.8" fill="#aa0a2c"/>
<circle cx="162.00" cy="295.10" r="1.8" fill="#aa0a2c"/>
<rect x="177.80" y="308.20" width="7.20" height="10.00" fill="#bcd39f"/>
<line x1="179.60" y1="309.00" x2="183.20" y2="309.00" stroke="#53a12c" stroke-width="3.1" stroke-linecap="round"/>
<rect x="189.40" y="302.90" width="7.20" height="15.30" fill="#bcd39f"/>
<circle cx="191.60" cy="300.50" r="1.8" fill="#53a12c"/>
<circle cx="193.40" cy="301.00" r="1.8" fill="#53a12c"/>
<circle cx="194.50" cy="305.30" r="1.8" fill="#53a12c"/>
<rect x="201.20" y="296.40" width="7.20" height="21.80" fill="#bcd39f"/>
<line x1="204.60" y1="284.00" x2="204.60" y2="306.70" stroke="#6eb04c" stroke-width="1.0"/>
<line x1="202.60" y1="306.70" x2="206.60" y2="306.70" stroke="#6eb04c" stroke-width="1.0"/>
<circle cx="204.50" cy="284.00" r="1.8" fill="#53a12c"/>
<circle cx="203.40" cy="300.70" r="1.8" fill="#53a12c"/>
<circle cx="206.30" cy="304.20" r="1.8" fill="#53a12c"/>
<rect x="213.00" y="280.00" width="7.20" height="38.20" fill="#bcd39f"/>
<line x1="216.40" y1="258.40" x2="216.40" y2="301.70" stroke="#6eb04c" stroke-width="1.0"/>
<line x1="214.40" y1="258.40" x2="218.40" y2="258.40" stroke="#6eb04c" stroke-width="1.0"/>
<circle cx="216.40" cy="259.60" r="1.8" fill="#53a12c"/>
<circle cx="216.40" cy="277.00" r="1.8" fill="#53a12c"/>
<circle cx="216.40" cy="301.70" r="1.8" fill="#53a12c"/>
<rect x="224.60" y="267.10" width="7.20" height="51.10" fill="#bcd39f"/>
<line x1="227.90" y1="242.60" x2="227.90" y2="293.20" stroke="#6eb04c" stroke-width="1.0"/>
<line x1="225.60" y1="242.60" x2="230.20" y2="242.60" stroke="#6eb04c" stroke-width="1.0"/>
<line x1="225.80" y1="290.00" x2="230.00" y2="290.00" stroke="#6eb04c" stroke-width="1.0"/>
<circle cx="227.90" cy="247.60" r="1.8" fill="#53a12c"/>
<circle cx="227.90" cy="258.40" r="1.8" fill="#53a12c"/>
<circle cx="227.90" cy="293.20" r="1.8" fill="#53a12c"/>
<line x1="49.10" y1="318.40" x2="49.10" y2="321.60" stroke="#3a3a3a" stroke-width="1.2"/>
<text x="49.10" y="329.90" font-size="6.3" text-anchor="middle" font-weight="normal" fill="#231f20" textLength="7.20" lengthAdjust="spacingAndGlyphs" stroke="#231f20" stroke-width="0.16">d0</text>
<line x1="60.80" y1="318.40" x2="60.80" y2="321.60" stroke="#3a3a3a" stroke-width="1.2"/>
<text x="60.80" y="329.90" font-size="6.3" text-anchor="middle" font-weight="normal" fill="#231f20" textLength="7.20" lengthAdjust="spacingAndGlyphs" stroke="#231f20" stroke-width="0.16">d7</text>
<line x1="72.50" y1="318.40" x2="72.50" y2="321.60" stroke="#3a3a3a" stroke-width="1.2"/>
<text x="71.50" y="329.90" font-size="6.3" text-anchor="middle" font-weight="normal" fill="#231f20" textLength="10.90" lengthAdjust="spacingAndGlyphs" stroke="#231f20" stroke-width="0.16">d14</text>
<line x1="84.20" y1="318.40" x2="84.20" y2="321.60" stroke="#3a3a3a" stroke-width="1.2"/>
<text x="84.10" y="329.90" font-size="6.3" text-anchor="middle" font-weight="normal" fill="#231f20" textLength="10.90" lengthAdjust="spacingAndGlyphs" stroke="#231f20" stroke-width="0.16">d21</text>
<line x1="95.90" y1="318.40" x2="95.90" y2="321.60" stroke="#3a3a3a" stroke-width="1.2"/>
<text x="95.80" y="329.90" font-size="6.3" text-anchor="middle" font-weight="normal" fill="#231f20" textLength="10.90" lengthAdjust="spacingAndGlyphs" stroke="#231f20" stroke-width="0.16">d28</text>
<line x1="115.40" y1="318.40" x2="115.40" y2="321.60" stroke="#3a3a3a" stroke-width="1.2"/>
<text x="115.20" y="329.90" font-size="6.3" text-anchor="middle" font-weight="normal" fill="#231f20" textLength="7.20" lengthAdjust="spacingAndGlyphs" stroke="#231f20" stroke-width="0.16">d0</text>
<line x1="127.00" y1="318.40" x2="127.00" y2="321.60" stroke="#3a3a3a" stroke-width="1.2"/>
<text x="126.60" y="329.90" font-size="6.3" text-anchor="middle" font-weight="normal" fill="#231f20" textLength="7.20" lengthAdjust="spacingAndGlyphs" stroke="#231f20" stroke-width="0.16">d7</text>
<line x1="138.70" y1="318.40" x2="138.70" y2="321.60" stroke="#3a3a3a" stroke-width="1.2"/>
<text x="137.40" y="329.90" font-size="6.3" text-anchor="middle" font-weight="normal" fill="#231f20" textLength="10.90" lengthAdjust="spacingAndGlyphs" stroke="#231f20" stroke-width="0.16">d14</text>
<line x1="150.40" y1="318.40" x2="150.40" y2="321.60" stroke="#3a3a3a" stroke-width="1.2"/>
<text x="150.00" y="329.90" font-size="6.3" text-anchor="middle" font-weight="normal" fill="#231f20" textLength="10.90" lengthAdjust="spacingAndGlyphs" stroke="#231f20" stroke-width="0.16">d21</text>
<line x1="162.10" y1="318.40" x2="162.10" y2="321.60" stroke="#3a3a3a" stroke-width="1.2"/>
<text x="161.90" y="329.90" font-size="6.3" text-anchor="middle" font-weight="normal" fill="#231f20" textLength="10.90" lengthAdjust="spacingAndGlyphs" stroke="#231f20" stroke-width="0.16">d28</text>
<line x1="181.40" y1="318.40" x2="181.40" y2="321.60" stroke="#3a3a3a" stroke-width="1.2"/>
<text x="181.70" y="329.90" font-size="6.3" text-anchor="middle" font-weight="normal" fill="#231f20" textLength="7.20" lengthAdjust="spacingAndGlyphs" stroke="#231f20" stroke-width="0.16">d0</text>
<line x1="193.00" y1="318.40" x2="193.00" y2="321.60" stroke="#3a3a3a" stroke-width="1.2"/>
<text x="192.80" y="329.90" font-size="6.3" text-anchor="middle" font-weight="normal" fill="#231f20" textLength="7.20" lengthAdjust="spacingAndGlyphs" stroke="#231f20" stroke-width="0.16">d7</text>
<line x1="204.80" y1="318.40" x2="204.80" y2="321.60" stroke="#3a3a3a" stroke-width="1.2"/>
<text x="203.60" y="329.90" font-size="6.3" text-anchor="middle" font-weight="normal" fill="#231f20" textLength="10.90" lengthAdjust="spacingAndGlyphs" stroke="#231f20" stroke-width="0.16">d14</text>
<line x1="216.50" y1="318.40" x2="216.50" y2="321.60" stroke="#3a3a3a" stroke-width="1.2"/>
<text x="216.10" y="329.90" font-size="6.3" text-anchor="middle" font-weight="normal" fill="#231f20" textLength="10.90" lengthAdjust="spacingAndGlyphs" stroke="#231f20" stroke-width="0.16">d21</text>
<line x1="228.20" y1="318.40" x2="228.20" y2="321.60" stroke="#3a3a3a" stroke-width="1.2"/>
<text x="228.00" y="329.90" font-size="6.3" text-anchor="middle" font-weight="normal" fill="#231f20" textLength="10.90" lengthAdjust="spacingAndGlyphs" stroke="#231f20" stroke-width="0.16">d28</text>
<text x="72.60" y="341.20" font-size="8.0" text-anchor="middle" font-weight="normal" fill="#231f20" textLength="57.50" lengthAdjust="spacingAndGlyphs" stroke="#231f20" stroke-width="0.28">KELIg and KEL RBCs</text>
<text x="139.00" y="341.80" font-size="8.0" text-anchor="middle" font-weight="normal" fill="#231f20" textLength="58.00" lengthAdjust="spacingAndGlyphs" stroke="#231f20" stroke-width="0.28">KELIg and poly (I:C)</text>
<text x="138.80" y="351.50" font-size="8.0" text-anchor="middle" font-weight="normal" fill="#231f20" textLength="40.00" lengthAdjust="spacingAndGlyphs" stroke="#231f20" stroke-width="0.28">and KEL RBCs</text>
<text x="205.00" y="341.80" font-size="8.0" text-anchor="middle" font-weight="normal" fill="#231f20" textLength="50.00" lengthAdjust="spacingAndGlyphs" stroke="#231f20" stroke-width="0.28">KELIg and rIFN-α</text>
<text x="204.90" y="351.50" font-size="8.0" text-anchor="middle" font-weight="normal" fill="#231f20" textLength="40.00" lengthAdjust="spacingAndGlyphs" stroke="#231f20" stroke-width="0.28">and KEL RBCs</text>
<path d="M78.20 248.10 V245.50 H209.50 V248.10" fill="none" stroke="#231f20" stroke-width="1"/>
<circle cx="143.80" cy="238.90" r="0.95" fill="#231f20"/>
<text x="147.00" y="240.90" font-size="6.3" text-anchor="start" font-weight="normal" fill="#231f20" textLength="38.00" lengthAdjust="spacingAndGlyphs" stroke="#231f20" stroke-width="0.12">(d7,14,21,28)</text>
<path d="M78.30 256.70 V253.90 H144.50 V256.70" fill="none" stroke="#231f20" stroke-width="1"/>
<circle cx="110.80" cy="248.60" r="0.95" fill="#231f20"/>
<text x="114.00" y="250.60" font-size="6.3" text-anchor="start" font-weight="normal" fill="#231f20" textLength="37.20" lengthAdjust="spacingAndGlyphs" stroke="#231f20" stroke-width="0.12">(d7,14,21,28)</text>
<rect x="0.5" y="0.5" width="519" height="360" fill="none" stroke="#000" stroke-width="1.2"/>
</svg>
</body></html>
